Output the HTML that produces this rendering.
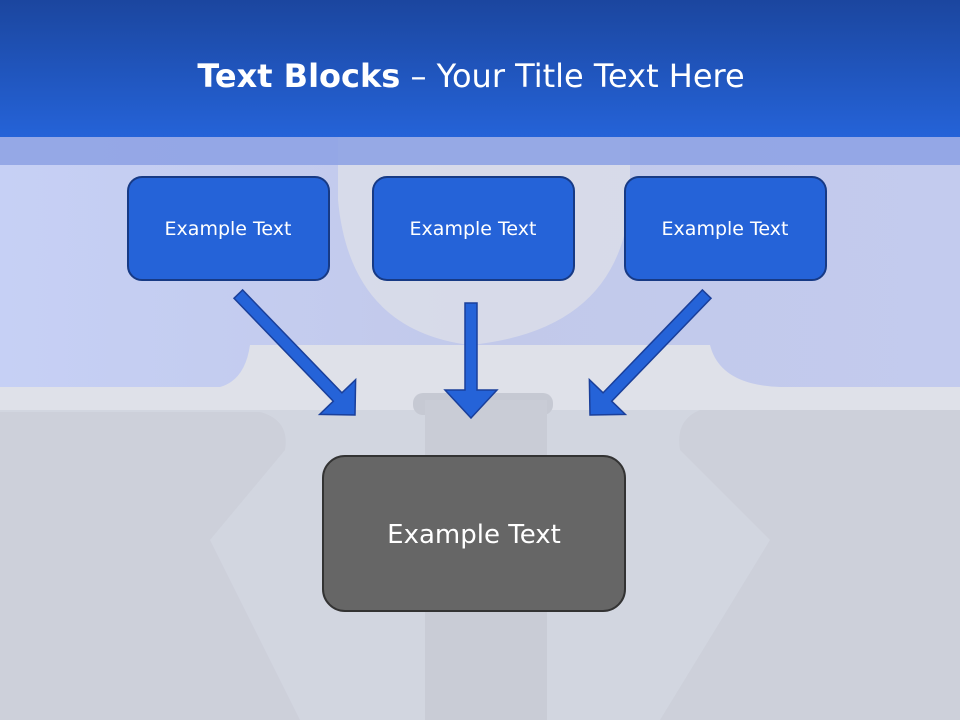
<!DOCTYPE html>
<html><head><meta charset="utf-8"><style>
html,body{margin:0;padding:0;width:960px;height:720px;overflow:hidden;background:#d3d7e1}
svg{display:block}
text{font-family:"DejaVu Sans","Liberation Sans",sans-serif}
</style></head><body>
<svg width="960" height="720" viewBox="0 0 960 720" xmlns="http://www.w3.org/2000/svg">
<defs>
<linearGradient id="hdr" x1="0" y1="0" x2="0" y2="1">
<stop offset="0" stop-color="#1b469f"/><stop offset="1" stop-color="#2563d8"/>
</linearGradient>
<linearGradient id="mid" x1="0" y1="0" x2="1" y2="0">
<stop offset="0" stop-color="#c6d0f5"/><stop offset="0.5" stop-color="#c2c9ea"/><stop offset="1" stop-color="#c3cbee"/>
</linearGradient>
</defs>
<rect x="0" y="0" width="960" height="720" fill="#d2d6e0"/>
<!-- upper periwinkle area -->
<rect x="0" y="137" width="960" height="250" fill="url(#mid)"/>
<!-- collar light area -->
<path d="M250 345 L710 345 Q720 385 780 387 L960 387 L960 410 L0 410 L0 387 L220 387 Q245 380 250 345Z" fill="#dfe1e9"/>
<path d="M338 137 L630 137 L630 200 Q620 330 470 345 Q350 330 338 200Z" fill="#dcdfe9" opacity="0.8"/>
<!-- collar pieces -->
<path d="M0 412 L260 412 Q290 420 285 450 L210 540 L300 720 L0 720Z" fill="#cdd0da"/>
<path d="M960 410 L700 410 Q675 420 680 450 L770 540 L660 720 L960 720Z" fill="#cdd0da"/>
<rect x="413" y="393" width="140" height="22" rx="10" fill="#c6c9d3"/>
<rect x="425" y="400" width="122" height="320" fill="#c9ccd6"/>
<!-- band -->
<rect x="0" y="137" width="960" height="28" fill="#8fa3e4" opacity="0.9"/>
<!-- header -->
<rect x="0" y="0" width="960" height="137" fill="url(#hdr)"/>
<text x="471" y="87" text-anchor="middle" font-size="32" fill="#fff"><tspan font-weight="bold">Text Blocks</tspan> – Your Title Text Here</text>
<!-- boxes -->
<g stroke="#173a85" stroke-width="2" fill="#2563d8">
<rect x="128" y="177" width="201" height="103" rx="14"/>
<rect x="373" y="177" width="201" height="103" rx="14"/>
<rect x="625" y="177" width="201" height="103" rx="14"/>
</g>
<g fill="#fff" font-size="19" text-anchor="middle">
<text x="228" y="235">Example Text</text>
<text x="473" y="235">Example Text</text>
<text x="725" y="235">Example Text</text>
</g>
<!-- arrows -->
<g fill="#2563d8" stroke="#1a3f9a" stroke-width="1.5">
<polygon transform="translate(355,415) rotate(46)" points="0,0 -25,-25 -25,-6 -168,-6 -168,6 -25,6 -25,25"/>
<polygon transform="translate(590,415) rotate(134)" points="0,0 -25,-25 -25,-6 -168,-6 -168,6 -25,6 -25,25"/>
<polygon transform="translate(471,418) rotate(90)" points="0,0 -28,-26 -28,-6 -115,-6 -115,6 -28,6 -28,26"/>
</g>
<!-- bottom box -->
<rect x="323" y="456" width="302" height="155" rx="22" fill="#666" stroke="#333" stroke-width="2"/>
<text x="474" y="543" text-anchor="middle" font-size="26" fill="#fff">Example Text</text>
</svg>
</body></html>
